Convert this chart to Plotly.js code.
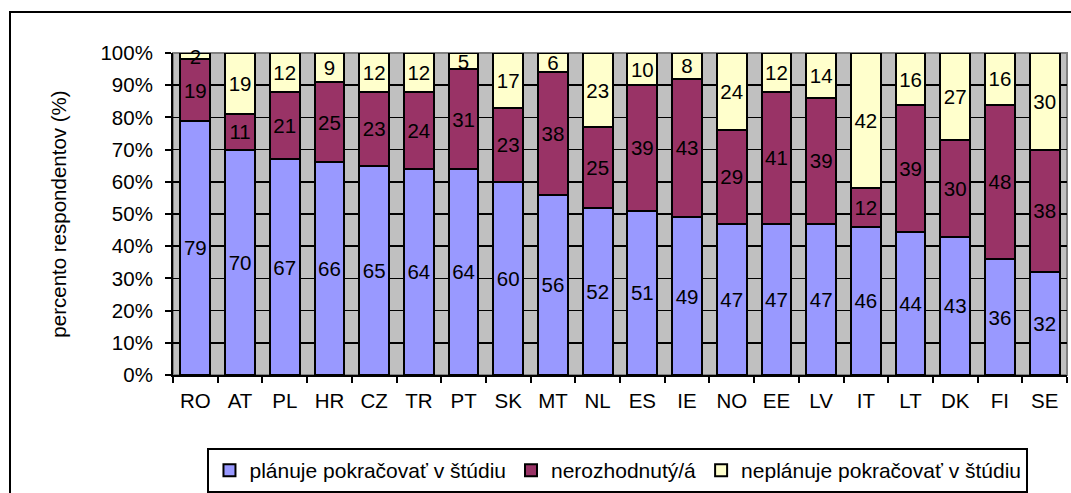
<!DOCTYPE html>
<html>
<head>
<meta charset="utf-8">
<script src="https://cdn.plot.ly/plotly-3.0.1.min.js"></script>
<style>
  html, body { margin: 0; padding: 0; background: #fff; overflow: hidden; }
  #chart { position: absolute; left: 0; top: 0; width: 1071px; height: 493px; }
  #frame { position: absolute; left: 9px; top: 11px; width: 1200px; height: 700px;
           border: 2px solid #000; pointer-events: none; z-index: 10; }
</style>
</head>
<body>
<div id="chart"></div>
<div id="frame"></div>
<script>
const countries = ["RO","AT","PL","HR","CZ","TR","PT","SK","MT","NL","ES","IE","NO","EE","LV","IT","LT","DK","FI","SE"];
const plans     = [79,70,67,66,65,64,64,60,56,52,51,49,47,47,47,46,44,43,36,32];
const undecided = [19,11,21,25,23,24,31,23,38,25,39,43,29,41,39,12,39,30,48,38];
const noPlans   = [2,19,12,9,12,12,5,17,6,23,10,8,24,12,14,42,16,27,16,30];
const seriesNames = ["plánuje pokračovať v štúdiu","nerozhodnutý/á","neplánuje pokračovať v štúdiu"];
const seriesColors = ["#9999FF","#993366","#FFFFCC"];
const yTickVals = [0,10,20,30,40,50,60,70,80,90,100];
const yTickText = ["0%","10%","20%","30%","40%","50%","60%","70%","80%","90%","100%"];
const yTitle = "percento respondentov (%)";

const FONT = "Liberation Sans, Arial, sans-serif";
const FS = 20.5;

const series = [plans, undecided, noPlans];
const traces = series.map((vals, i) => ({
  type: "bar",
  name: seriesNames[i],
  x: countries,
  y: vals,
  text: vals.map(String),
  textposition: "inside",
  insidetextanchor: "middle",
  textangle: 0,
  constraintext: "none",
  cliponaxis: false,
  insidetextfont: { family: FONT, size: FS, color: "#000" },
  outsidetextfont: { family: FONT, size: FS, color: "#000" },
  marker: { color: seriesColors[i], line: { color: "#000", width: 2 } },
  hoverinfo: "x+y+name"
}));

const layout = {
  width: 1071, height: 493,
  margin: { l: 173, r: 4, t: 53, b: 118 },
  barmode: "stack",
  barnorm: "percent",
  bargap: 0.333,
  paper_bgcolor: "#fff",
  plot_bgcolor: "#C0C0C0",
  font: { family: FONT, size: FS, color: "#000" },
  showlegend: true,
  legend: {
    orientation: "h",
    xref: "container", yref: "container",
    x: 0.577, xanchor: "center",
    y: 0.091, yanchor: "top",
    bgcolor: "#fff", bordercolor: "#000", borderwidth: 2,
    font: { family: FONT, size: 21, color: "#000" },
    traceorder: "normal",
    itemwidth: 30
  },
  xaxis: {
    type: "category",
    showline: true, linecolor: "#000", linewidth: 2,
    ticks: "outside", tickson: "boundaries", ticklen: 6, tickcolor: "#000", tickwidth: 2,
    showgrid: false,
    tickfont: { family: FONT, size: FS, color: "#000" },
    ticklabelstandoff: 6,
    automargin: false
  },
  yaxis: {
    range: [0, 100.0001],
    tickmode: "array",
    tickvals: yTickVals,
    ticktext: yTickText,
    showline: true, linecolor: "#000", linewidth: 2,
    ticks: "outside", ticklen: 6, tickcolor: "#000", tickwidth: 2,
    showgrid: true, gridcolor: "#000", gridwidth: 1.5,
    zeroline: false,
    tickfont: { family: FONT, size: FS, color: "#000" },
    ticklabelstandoff: 8,
    title: { text: yTitle, font: { family: FONT, size: FS, color: "#000" }, standoff: 28 },
    automargin: false
  },
  shapes: [{
    type: "rect", xref: "paper", yref: "paper", x0: 0, x1: 1, y0: 0, y1: 1,
    line: { color: "#808080", width: 2 }, layer: "below"
  }]
};

Plotly.newPlot("chart", traces, layout, { displayModeBar: false, staticPlot: true });
</script>
</body>
</html>
